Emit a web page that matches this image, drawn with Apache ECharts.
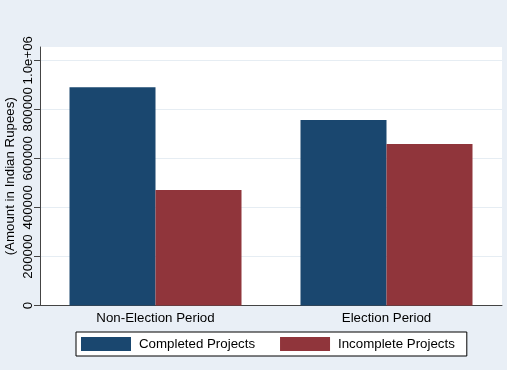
<!DOCTYPE html>
<html><head><meta charset="utf-8">
<script src="https://cdn.jsdelivr.net/npm/echarts@6/dist/echarts.min.js"></script>
<style>html,body{margin:0;padding:0;background:#e9eff6;}#c{width:507px;height:370px;}</style>
</head><body><div id="c"></div>
<script>
const categories = ['Non-Election Period', 'Election Period'];
const completed = [890000, 756000];
const incomplete = [470500, 658000];
const seriesNames = ['Completed Projects', 'Incomplete Projects'];
const yTicks = [0, 200000, 400000, 600000, 800000, 1000000];

const F = 'Liberation Sans, Arial, sans-serif';
const chart = echarts.init(document.getElementById('c'), null, {renderer: 'canvas'});
chart.setOption({
  backgroundColor: '#e9eff6',
  animation: false,
  grid: {left: 40, right: 5, top: 47, bottom: 64.5, show: true, backgroundColor: '#ffffff', borderWidth: 0,
         containLabel: false, outerBoundsMode: 'none'},
  legend: {
    data: seriesNames,
    bottom: 14, left: 76,
    orient: 'horizontal',
    itemWidth: 50, itemHeight: 14, itemGap: 25,
    padding: [5, 12, 5, 5],
    backgroundColor: '#ffffff', borderColor: '#000000', borderWidth: 1, borderRadius: 0,
    textStyle: {fontFamily: F, fontSize: 13.3, color: '#000', padding: [0, 0, 0, 3]},
    icon: 'rect'
  },
  xAxis: {
    type: 'category', data: categories,
    axisLine: {show: true, lineStyle: {color: '#444', width: 1}},
    axisTick: {show: false},
    axisLabel: {fontFamily: F, fontSize: 13.3, color: '#000', margin: 6},
    splitLine: {show: false}
  },
  yAxis: {
    type: 'value', min: 0, max: 1054000, interval: 200000,
    name: '(Amount in Indian Rupees)', nameLocation: 'middle', nameGap: 23, nameMoveOverlap: false,
    nameTextStyle: {fontFamily: F, fontSize: 13.3, color: '#000'},
    axisLine: {show: true, lineStyle: {color: '#444', width: 1}},
    axisTick: {show: true, length: 6, lineStyle: {color: '#444'}, customValues: yTicks},
    axisLabel: {
      rotate: 90, fontFamily: F, fontSize: 13.3, color: '#000', margin: 5,
      customValues: yTicks,
      formatter: v => (yTicks.indexOf(v) < 0 ? '' : (v === 1000000 ? '1.0e+06' : String(v)))
    },
    splitLine: {show: true, lineStyle: {color: '#e6edf3', width: 1}}
  },
  series: [
    {name: seriesNames[0], type: 'bar', data: completed, barWidth: 86, barGap: '0%',
     itemStyle: {color: '#1a476f'}},
    {name: seriesNames[1], type: 'bar', data: incomplete, barWidth: 86, barGap: '0%',
     itemStyle: {color: '#90353b'}}
  ]
});
</script></body></html>
